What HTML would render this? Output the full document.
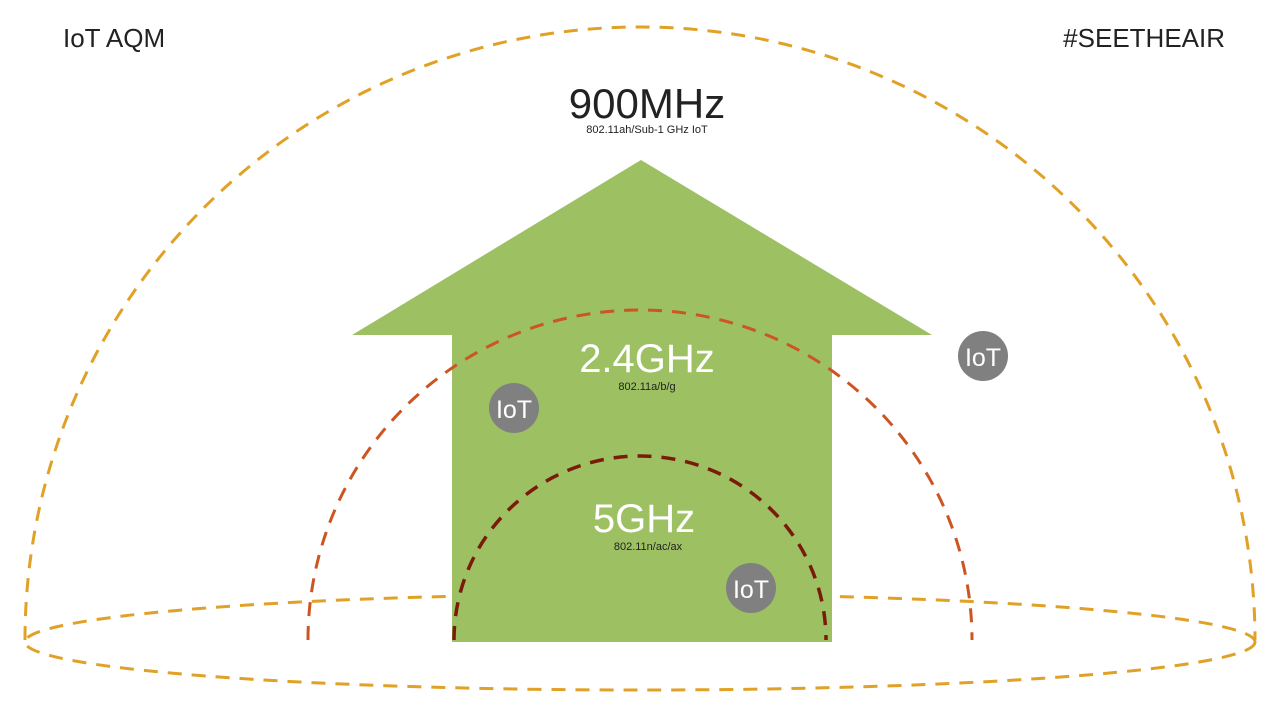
<!DOCTYPE html>
<html><head><meta charset="utf-8"><style>
html,body{margin:0;padding:0;background:#fff;}
svg{display:block;}
text{font-family:"Liberation Sans",sans-serif;}
</style></head><body>
<svg width="1280" height="720" viewBox="0 0 1280 720" xmlns="http://www.w3.org/2000/svg">
<rect width="1280" height="720" fill="#fff"/>
<text x="63" y="47" font-size="26" fill="#222">IoT AQM</text>
<text x="1225" y="47" font-size="26" fill="#222" text-anchor="end">#SEETHEAIR</text>
<ellipse cx="640" cy="642" rx="615" ry="48" fill="none" stroke="#e0a126" stroke-width="3" stroke-dasharray="14 10"/>
<polygon points="641,160 932,335 832,335 832,642 452,642 452,335 352,335" fill="#9dc063"/>
<path d="M25,640 A615,613 0 0 1 1255,640" fill="none" stroke="#e0a126" stroke-width="3" stroke-dasharray="14 10"/>
<path d="M308,640 A332,330 0 0 1 972,640" fill="none" stroke="#cc5522" stroke-width="3" stroke-dasharray="14 10"/>
<path d="M454,640 A186,184 0 0 1 826,640" fill="none" stroke="#7a1a08" stroke-width="3.5" stroke-dasharray="14 10"/>
<circle cx="514" cy="408" r="25" fill="#808080"/>
<text x="514" y="418" font-size="25" fill="#fff" text-anchor="middle">IoT</text>
<circle cx="983" cy="356" r="25" fill="#808080"/>
<text x="983" y="366" font-size="25" fill="#fff" text-anchor="middle">IoT</text>
<circle cx="751" cy="588" r="25" fill="#808080"/>
<text x="751" y="598" font-size="25" fill="#fff" text-anchor="middle">IoT</text>
<text x="647" y="118" font-size="42" fill="#222" text-anchor="middle">900MHz</text>
<text x="647" y="133" font-size="11" fill="#222" text-anchor="middle">802.11ah/Sub-1 GHz IoT</text>
<text x="647" y="372" font-size="40" fill="#fff" text-anchor="middle">2.4GHz</text>
<text x="647" y="390" font-size="11" fill="#222" text-anchor="middle">802.11a/b/g</text>
<text x="644" y="532" font-size="40" fill="#fff" text-anchor="middle">5GHz</text>
<text x="648" y="550" font-size="11" fill="#222" text-anchor="middle">802.11n/ac/ax</text>
</svg>
</body></html>
